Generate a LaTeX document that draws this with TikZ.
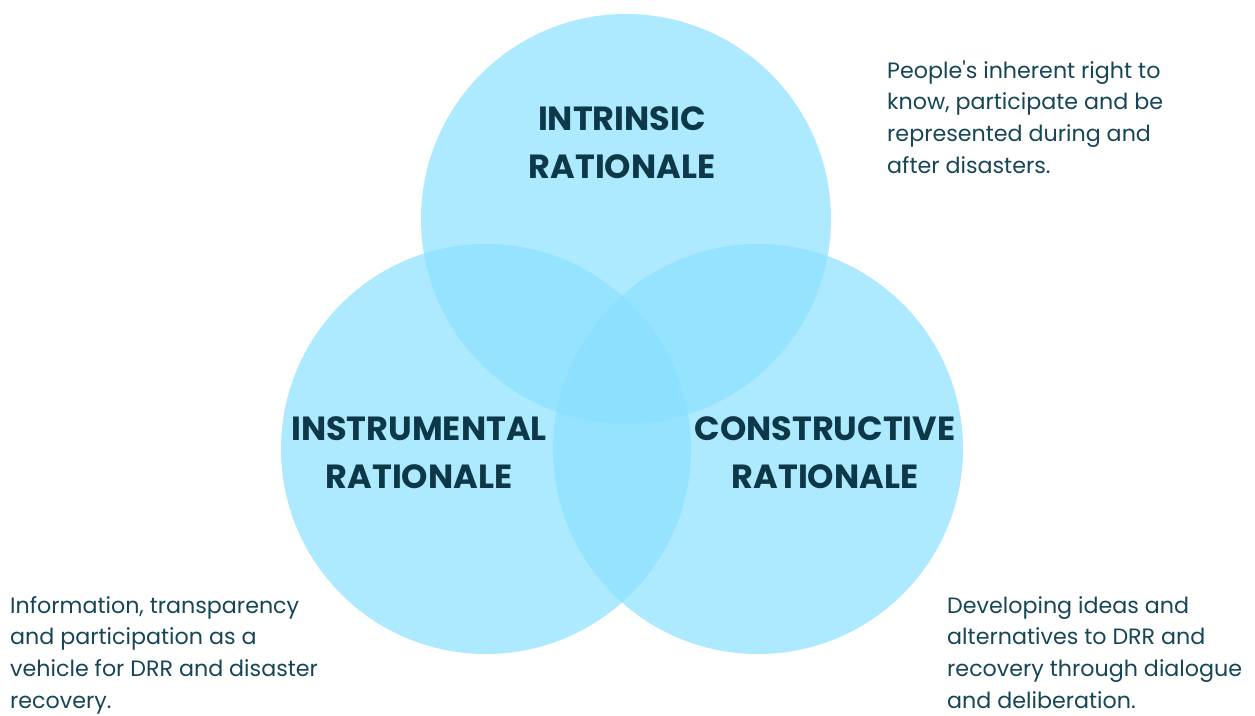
\documentclass[tikz,border=0pt]{standalone}
\usepackage{fontspec}
\setmainfont{Poppins}
\definecolor{circ}{RGB}{138,224,255}
\definecolor{ink}{RGB}{12,56,72}
\definecolor{bodyink}{RGB}{22,70,86}
\begin{document}
\begin{tikzpicture}[x=1pt,y=-1pt,
  venn/.style={fill=circ,fill opacity=0.7,draw=none},
  title/.style={font=\fontsize{33.5}{48}\selectfont\bfseries,text=ink,align=center,inner sep=0pt,anchor=base},
  desc/.style={font=\fontsize{22.2}{31.6}\selectfont,text=bodyink,align=left,inner sep=0pt,anchor=base west}]
\useasboundingbox (0,0) rectangle (1255,715);
\fill[venn] (626,219) circle (205);
\fill[venn] (486,449) circle (205);
\fill[venn] (758,449) circle (205);
\node[title] (t1) at (622,178) {INTRINSIC\\RATIONALE};
\node[title] (t2) at (419,488) {INSTRUMENTAL\\RATIONALE};
\node[title] (t3) at (825,488) {CONSTRUCTIVE\\RATIONALE};
\node[desc] (d1) at (887,173) {People\textquotesingle s inherent right to\\know, participate and be\\represented during and\\after disasters.};
\node[desc] (d2) at (10,708) {Information, transparency\\and participation as a\\vehicle for DRR and disaster\\recovery.};
\node[desc] (d3) at (947,708) {Developing ideas and\\alternatives to DRR and\\recovery through dialogue\\and deliberation.};
\end{tikzpicture}
\end{document}
